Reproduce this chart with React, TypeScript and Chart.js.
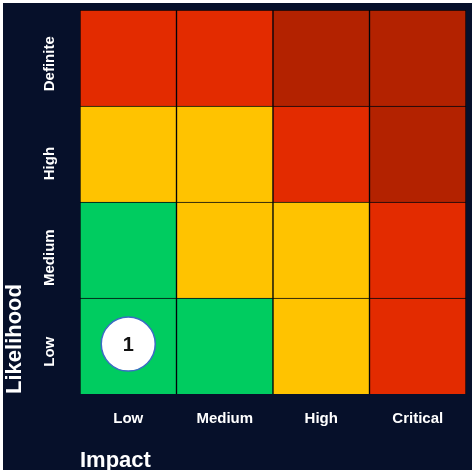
import React, { useEffect, useRef } from "react";
import { Chart, registerables } from "chart.js";

Chart.register(...registerables);

const impactLabels = ["Low", "Medium", "High", "Critical"];
const likelihoodLabels = ["Low", "Medium", "High", "Definite"];
const likelihoodTickValues = [0.44, 1.42, 2.4, 3.44];

// colour level per cell: rows bottom (Low) to top (Definite), columns Low..Critical
const levelLow = ["green", "green", "yellow", "red"];
const levelMedium = ["green", "yellow", "yellow", "red"];
const levelHigh = ["yellow", "yellow", "red", "darkred"];
const levelDefinite = ["red", "red", "darkred", "darkred"];
const rowLevels = [levelLow, levelMedium, levelHigh, levelDefinite];

const riskPoints = [{ x: "Low", y: 0.52, label: "1" }];

const palette: Record<string, string> = {
  green: "#00cc60",
  yellow: "#ffc300",
  red: "#e32b00",
  darkred: "#b32200",
};

const BG = "#06102a";
const FONT = "'Liberation Sans', Arial, sans-serif";

const pointLabelPlugin = {
  id: "pointLabels",
  afterDatasetsDraw(chart: any) {
    const ctx = chart.ctx;
    chart.data.datasets.forEach((ds: any, i: number) => {
      if (ds.type !== "scatter") return;
      const meta = chart.getDatasetMeta(i);
      meta.data.forEach((el: any, j: number) => {
        ctx.save();
        ctx.fillStyle = "#111111";
        ctx.font = `bold 20px ${FONT}`;
        ctx.textAlign = "center";
        ctx.textBaseline = "middle";
        ctx.fillText(ds.data[j].label, el.x, el.y + 1);
        ctx.restore();
      });
    });
  },
};

const zeroPadding = (s: any) => {
  s.paddingTop = 0;
  s.paddingBottom = 0;
  s.paddingLeft = 0;
  s.paddingRight = 0;
};

export default function App() {
  const ref = useRef<HTMLCanvasElement>(null);
  useEffect(() => {
    document.body.style.margin = "0";
    const datasets: any[] = [
      {
        type: "scatter",
        order: 0,
        data: riskPoints.map((p) => ({ x: p.x, y: p.y, label: p.label })),
        pointRadius: 27,
        pointHoverRadius: 27,
        backgroundColor: "#ffffff",
        borderColor: "#3b6cc4",
        borderWidth: 1.5,
        showLine: false,
        clip: false,
      },
      ...rowLevels.map((row, i) => ({
        type: "bar",
        order: 1,
        label: likelihoodLabels[i],
        data: impactLabels.map(() => 1),
        backgroundColor: row.map((l) => palette[l]),
        borderColor: "rgba(0,0,0,0.75)",
        borderWidth: 1,
        categoryPercentage: 1,
        barPercentage: 1,
      })),
    ];
    const chart = new Chart(ref.current as HTMLCanvasElement, {
      type: "bar",
      data: { labels: impactLabels, datasets },
      plugins: [pointLabelPlugin],
      options: {
        animation: false,
        responsive: true,
        maintainAspectRatio: false,
        layout: { autoPadding: false, padding: { top: 7, right: 6, left: 0, bottom: 0 } },
        plugins: { legend: { display: false }, tooltip: { enabled: false } },
        scales: {
          x: {
            type: "category",
            stacked: true,
            grid: { display: false, drawTicks: false },
            border: { display: false },
            ticks: {
              color: "#ffffff",
              font: { family: FONT, size: 15, weight: "bold" },
              padding: 16,
            },
            title: {
              display: true,
              text: "Impact",
              align: "start",
              color: "#ffffff",
              font: { family: FONT, size: 22, weight: "bold" },
              padding: { top: 0, bottom: -4 },
            },
            afterFit: (s: any) => {
              s.height = 76;
              zeroPadding(s);
            },
          },
          y: {
            type: "linear",
            stacked: true,
            min: 0,
            max: 4,
            grid: { display: false, drawTicks: false },
            border: { display: false },
            afterBuildTicks: (s: any) => {
              s.ticks = likelihoodTickValues.map((v) => ({ value: v }));
            },
            ticks: {
              color: "#ffffff",
              font: { family: FONT, size: 15, weight: "bold" },
              minRotation: 90,
              maxRotation: 90,
              crossAlign: "center",
              padding: 2,
              callback: (_v: any, i: number) => likelihoodLabels[i],
            },
            title: {
              display: true,
              text: "Likelihood",
              align: "start",
              color: "#ffffff",
              font: { family: FONT, size: 22, weight: "bold" },
              padding: { top: -1, bottom: 0 },
            },
            afterFit: (s: any) => {
              s.width = 77;
              zeroPadding(s);
            },
          },
        },
      } as any,
    });
    return () => chart.destroy();
  }, []);
  return (
    <div
      style={{
        position: "absolute",
        left: 3,
        top: 3,
        width: 469,
        height: 467,
        background: BG,
      }}
    >
      <canvas ref={ref} />
    </div>
  );
}
